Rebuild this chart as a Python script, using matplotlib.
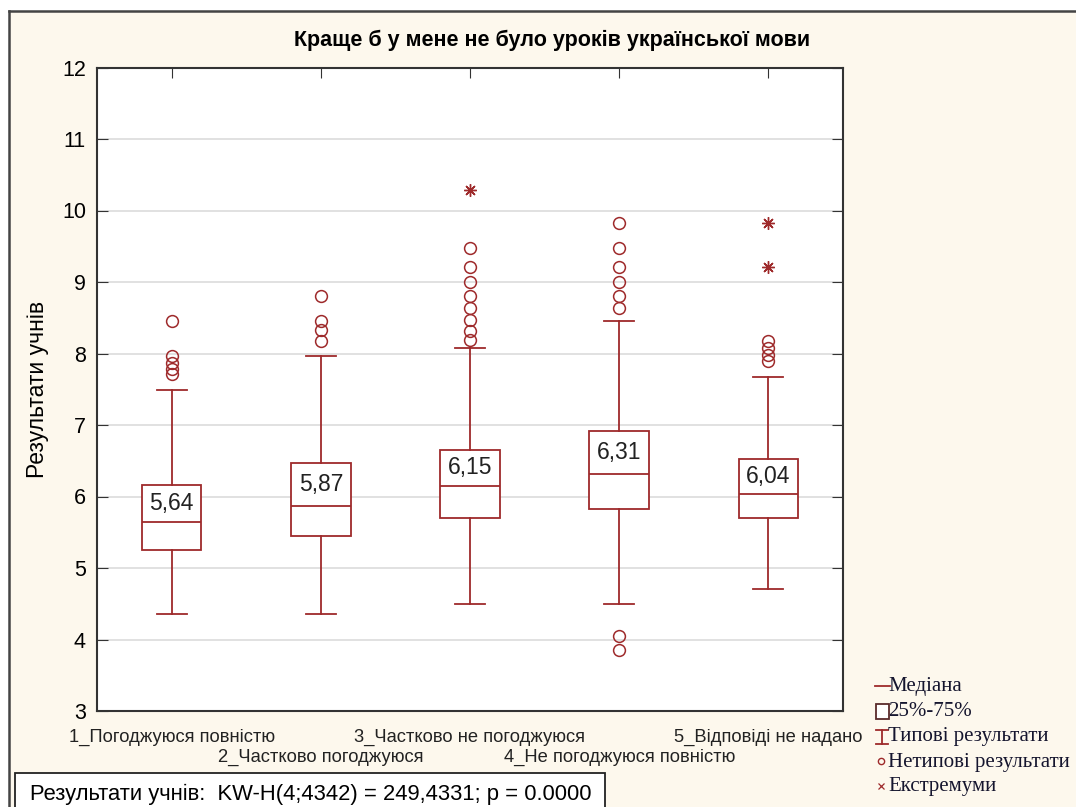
import numpy as np
import matplotlib.pyplot as plt
from matplotlib.lines import Line2D
from matplotlib.patches import Rectangle

# -------------------------------
# Data
# -------------------------------
categories = ["1_Погоджуюся повністю", "2_Частково погоджуюся", "3_Частково не погоджуюся",
              "4_Не погоджуюся повністю", "5_Відповіді не надано"]
medians = [5.64, 5.87, 6.15, 6.31, 6.04]
q1 = [5.25, 5.45, 5.70, 5.82, 5.70]
q3 = [6.16, 6.47, 6.65, 6.91, 6.53]
whisk_lo = [4.36, 4.36, 4.50, 4.50, 4.71]
whisk_hi = [7.49, 7.96, 8.07, 8.45, 7.67]
outliers = [
    [8.45, 7.96, 7.87, 7.79, 7.71],
    [8.80, 8.46, 8.33, 8.18],
    [9.48, 9.21, 9.00, 8.80, 8.64, 8.47, 8.31, 8.19],
    [9.83, 9.48, 9.21, 9.00, 8.80, 8.63, 4.05, 3.86],
    [8.18, 8.08, 7.98, 7.89],
]
extremes = [[], [], [10.29], [], [9.83, 9.21]]
median_labels = ["5,64", "5,87", "6,15", "6,31", "6,04"]

title = "Краще б у мене не було уроків української мови"
ylabel = "Результати учнів"
stats_text = "Результати учнів:  KW-H(4;4342) = 249,4331; p = 0.0000"
legend_labels = ["Медіана", "25%-75%", "Типові результати", "Нетипові результати", "Екстремуми"]

# -------------------------------
# Styling
# -------------------------------
red = "#9e2a2b"
cream = "#fdf8ed"
plt.rcParams['font.family'] = ['Liberation Sans', 'DejaVu Sans']

fig = plt.figure(figsize=(10.76, 8.07), dpi=100)
fig.patch.set_facecolor("white")

# cream panel with dark frame on top/left
fig.add_artist(Rectangle((9 / 1076, 0), 1, 1 - 11 / 807, transform=fig.transFigure,
                         facecolor=cream, edgecolor="none", zorder=-10))
fig.add_artist(Line2D([9 / 1076, 1], [1 - 11 / 807] * 2, transform=fig.transFigure,
                      color="#444444", lw=1.8))
fig.add_artist(Line2D([9 / 1076] * 2, [0, 1 - 11 / 807], transform=fig.transFigure,
                      color="#444444", lw=1.8))

ax = fig.add_axes([97 / 1076, 96 / 807, 746 / 1076, 643.5 / 807])
ax.set_facecolor("white")

stats = []
for i in range(len(categories)):
    stats.append(dict(med=medians[i], q1=q1[i], q3=q3[i],
                      whislo=whisk_lo[i], whishi=whisk_hi[i], fliers=outliers[i]))

ax.bxp(stats, positions=range(1, 6), widths=0.4, capwidths=0.2, patch_artist=True,
       boxprops=dict(facecolor="white", edgecolor=red, linewidth=1.3),
       medianprops=dict(color=red, linewidth=1.3),
       whiskerprops=dict(color=red, linewidth=1.3),
       capprops=dict(color=red, linewidth=1.3),
       flierprops=dict(marker="o", markerfacecolor="none", markeredgecolor=red,
                       markersize=8.5, markeredgewidth=1.1))

for i, ext in enumerate(extremes):
    if ext:
        ax.plot([i + 1] * len(ext), ext, linestyle="none", marker=(8, 2, 0),
                color=red, markersize=9, markeredgewidth=1.0)

for i, lab in enumerate(median_labels):
    ax.text(i + 1, (medians[i] + q3[i]) / 2, lab, ha="center", va="center",
            fontsize=16.5, color="#222222",
            bbox=dict(facecolor="white", edgecolor="none", pad=0.5), zorder=5)

ax.set_xlim(0.5, 5.5)
ax.set_ylim(3, 12)
ax.set_yticks(range(3, 13))
ax.yaxis.grid(True, color="#dcdcdc", linewidth=1.2)
ax.set_axisbelow(True)

ax.set_xticks(range(1, 6))
ax.set_xticklabels(categories, fontsize=13.2, color="#222222")
for i, lab in enumerate(ax.get_xticklabels()):
    if i % 2:
        lab.set_y(-0.031)
ax.tick_params(axis="x", bottom=False, top=True, direction="in", length=7,
               color="#333333", pad=13)
ax.tick_params(axis="y", left=True, right=True, direction="in", length=8,
               labelsize=15.5, color="#333333", pad=8)

for sp in ax.spines.values():
    sp.set_color("#333333")
    sp.set_linewidth(1.5)

ax.set_ylabel(ylabel, fontsize=16.5, labelpad=9)
fig.text(552 / 1076, 1 - 40 / 807, title, ha="center", va="center",
         fontsize=15.5, fontweight="bold")

# stats box bottom-left
fig.add_artist(Rectangle((15 / 1076, -0.02), 590 / 1076, 34 / 807 + 0.02,
                         transform=fig.transFigure, facecolor="white",
                         edgecolor="#222222", linewidth=1.3))
fig.text(30 / 1076, 1 - 794 / 807, stats_text, ha="left", va="center", fontsize=15.8)

# custom legend (right bottom)
def fx(px):
    return px / 1076

def fy(py):
    return 1 - py / 807

leg_y = [686, 711, 737, 762, 787]
text_x = 888
for lab, y in zip(legend_labels, leg_y):
    fig.text(fx(text_x), fy(y), lab, ha="left", va="center", fontsize=15,
             family="Liberation Serif", color="#15152e")

fig.add_artist(Line2D([fx(875), fx(890)], [fy(686)] * 2, transform=fig.transFigure,
                      color=red, lw=1.3))
fig.add_artist(Rectangle((fx(876), fy(719)), 13 / 1076, 15 / 807, transform=fig.transFigure,
                         facecolor="white", edgecolor="#5a2b2b", lw=1.3))
fig.add_artist(Line2D([fx(876), fx(888)], [fy(730)] * 2, transform=fig.transFigure, color=red, lw=1.3))
fig.add_artist(Line2D([fx(876), fx(888)], [fy(744)] * 2, transform=fig.transFigure, color=red, lw=1.3))
fig.add_artist(Line2D([fx(882)] * 2, [fy(730), fy(744)], transform=fig.transFigure, color=red, lw=1.3))
fig.add_artist(Line2D([fx(881)], [fy(761)], transform=fig.transFigure, marker="o",
                      markersize=4.5, markerfacecolor="none", markeredgecolor=red, lw=0))
fig.add_artist(Line2D([fx(881)], [fy(786)], transform=fig.transFigure, marker="x",
                      markersize=4, color=red, markeredgewidth=0.9, lw=0))

fig.savefig("out.png", dpi=100, facecolor=fig.get_facecolor())
